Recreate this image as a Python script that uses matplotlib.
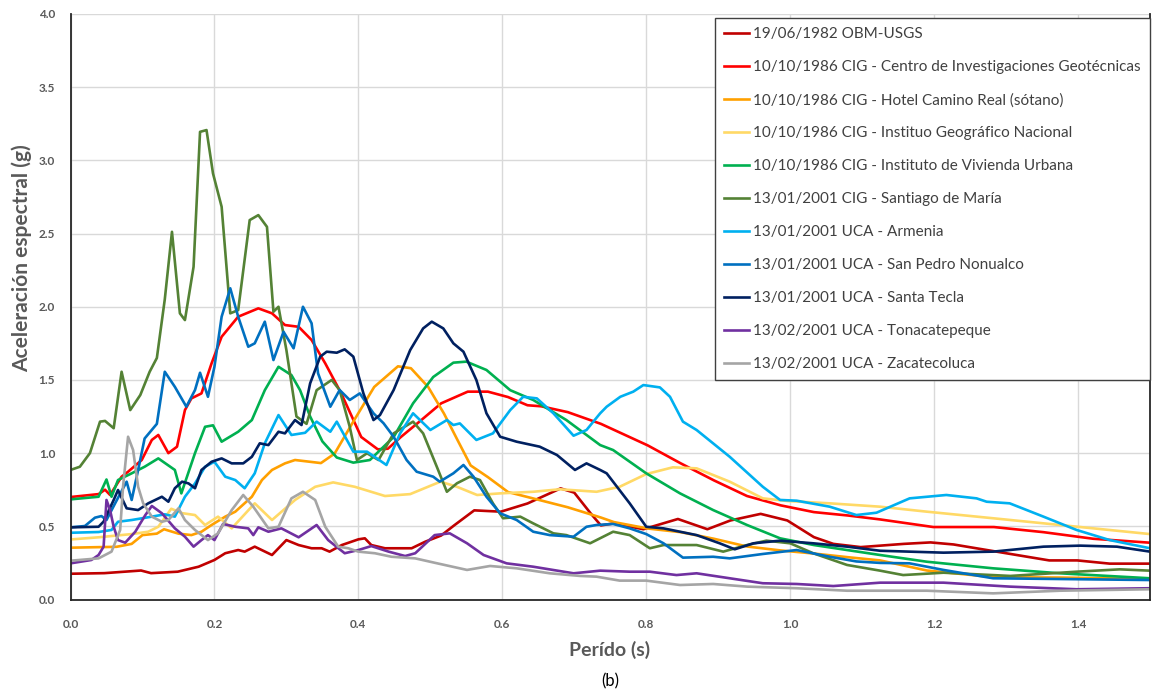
import matplotlib
matplotlib.use("Agg")
import matplotlib.pyplot as plt

plt.rcParams['font.family'] = ['Lato', 'DejaVu Sans']

# --- spectral acceleration curves: period (s) / Sa (g) ---
obm_t = [0.0, 0.047, 0.098, 0.112, 0.149, 0.178, 0.2, 0.215, 0.233, 0.242, 0.256, 0.28, 0.3, 0.317, 0.335,
         0.349, 0.36, 0.377, 0.4, 0.409, 0.418, 0.437, 0.474, 0.493, 0.515, 0.533, 0.561, 0.598, 0.635, 0.681,
         0.7, 0.723, 0.737, 0.755, 0.796, 0.844, 0.885, 0.917, 0.959, 0.996, 1.033, 1.06, 1.098, 1.158, 1.195,
         1.227, 1.283, 1.36, 1.399, 1.444, 1.5]
obm_sa = [0.176, 0.18, 0.198, 0.18, 0.19, 0.224, 0.27, 0.316, 0.338, 0.327, 0.361, 0.304, 0.406, 0.372, 0.35,
          0.35, 0.327, 0.372, 0.411, 0.418, 0.372, 0.35, 0.35, 0.395, 0.437, 0.506, 0.609, 0.6, 0.656, 0.759,
          0.73, 0.587, 0.506, 0.52, 0.48, 0.55, 0.48, 0.54, 0.585, 0.54, 0.426, 0.38, 0.358, 0.38, 0.39,
          0.376, 0.33, 0.267, 0.267, 0.245, 0.245]

cig_t = [0.0, 0.039, 0.048, 0.055, 0.071, 0.08, 0.099, 0.113, 0.122, 0.136, 0.148, 0.159, 0.168, 0.182, 0.196,
         0.21, 0.233, 0.261, 0.28, 0.298, 0.317, 0.335, 0.354, 0.376, 0.404, 0.427, 0.441, 0.459, 0.487, 0.515,
         0.552, 0.58, 0.608, 0.635, 0.654, 0.691, 0.737, 0.802, 0.848, 0.894, 0.94, 0.987, 1.033, 1.08, 1.125,
         1.199, 1.283, 1.352, 1.421, 1.5]
cig_sa = [0.70, 0.72, 0.75, 0.714, 0.839, 0.873, 0.953, 1.09, 1.124, 1.0, 1.044, 1.294, 1.374, 1.408, 1.613,
          1.795, 1.932, 1.989, 1.955, 1.875, 1.863, 1.773, 1.613, 1.41, 1.11, 1.026, 1.03, 1.11, 1.224, 1.34,
          1.42, 1.42, 1.383, 1.327, 1.32, 1.28, 1.20, 1.053, 0.93, 0.814, 0.707, 0.643, 0.597, 0.574, 0.547,
          0.495, 0.495, 0.46, 0.415, 0.388]

hotel_t = [0.0, 0.064, 0.085, 0.1, 0.12, 0.13, 0.15, 0.168, 0.182, 0.196, 0.215, 0.229, 0.252, 0.266, 0.28,
           0.298, 0.312, 0.348, 0.367, 0.394, 0.422, 0.455, 0.473, 0.497, 0.519, 0.538, 0.556, 0.58, 0.608, 0.644,
           0.691, 0.737, 0.755, 0.802, 0.848, 0.894, 0.94, 0.987, 1.033, 1.08, 1.125, 1.19, 1.283, 1.375, 1.5]
hotel_sa = [0.354, 0.36, 0.38, 0.44, 0.45, 0.48, 0.45, 0.44, 0.463, 0.509, 0.566, 0.6, 0.702, 0.816, 0.885,
            0.93, 0.953, 0.932, 0.997, 1.224, 1.452, 1.593, 1.58, 1.452, 1.27, 1.087, 0.916, 0.836, 0.734, 0.689,
            0.63, 0.56, 0.529, 0.485, 0.46, 0.415, 0.362, 0.335, 0.314, 0.289, 0.267, 0.198, 0.152, 0.15, 0.14]

ign_t = [0.0, 0.039, 0.085, 0.108, 0.122, 0.14, 0.155, 0.173, 0.187, 0.205, 0.224, 0.256, 0.28, 0.312, 0.34,
         0.365, 0.395, 0.437, 0.472, 0.514, 0.537, 0.565, 0.597, 0.643, 0.68, 0.731, 0.763, 0.8, 0.837, 0.87,
         0.916, 0.962, 0.996, 1.055, 1.125, 1.19, 1.282, 1.375, 1.5]
ign_sa = [0.41, 0.425, 0.447, 0.463, 0.497, 0.62, 0.59, 0.577, 0.509, 0.566, 0.486, 0.657, 0.543, 0.68, 0.77,
          0.8, 0.77, 0.707, 0.72, 0.805, 0.77, 0.714, 0.725, 0.736, 0.753, 0.736, 0.77, 0.857, 0.903, 0.896,
          0.805, 0.691, 0.673, 0.657, 0.634, 0.6, 0.555, 0.509, 0.447]

ivu_t = [0.0, 0.039, 0.05, 0.057, 0.066, 0.085, 0.103, 0.122, 0.145, 0.154, 0.173, 0.187, 0.198, 0.21, 0.233,
         0.252, 0.27, 0.289, 0.307, 0.319, 0.333, 0.35, 0.37, 0.393, 0.416, 0.449, 0.476, 0.504, 0.532, 0.55,
         0.578, 0.611, 0.643, 0.689, 0.736, 0.754, 0.8, 0.847, 0.893, 0.94, 0.986, 1.033, 1.079, 1.125, 1.19,
         1.282, 1.375, 1.5]
ivu_sa = [0.684, 0.702, 0.82, 0.702, 0.816, 0.862, 0.907, 0.964, 0.885, 0.725, 1.0, 1.18, 1.19, 1.078, 1.146,
          1.226, 1.43, 1.59, 1.533, 1.43, 1.25, 1.08, 0.97, 0.935, 0.953, 1.11, 1.34, 1.52, 1.618, 1.625,
          1.568, 1.43, 1.363, 1.226, 1.055, 1.021, 0.862, 0.725, 0.611, 0.509, 0.418, 0.372, 0.338, 0.304, 0.258,
          0.213, 0.179, 0.145]

smaria_t = [0.0, 0.013, 0.027, 0.041, 0.048, 0.06, 0.071, 0.083, 0.097, 0.11, 0.12, 0.131, 0.141, 0.152, 0.159,
            0.171, 0.18, 0.189, 0.198, 0.21, 0.222, 0.233, 0.249, 0.261, 0.273, 0.282, 0.289, 0.3, 0.314, 0.328,
            0.342, 0.363, 0.374, 0.388, 0.398, 0.412, 0.428, 0.449, 0.476, 0.49, 0.509, 0.523, 0.537, 0.555,
            0.569, 0.587, 0.601, 0.625, 0.643, 0.671, 0.689, 0.722, 0.754, 0.777, 0.805, 0.824, 0.87, 0.907,
            0.94, 0.967, 1.0, 1.032, 1.079, 1.125, 1.157, 1.213, 1.306, 1.398, 1.458, 1.5]
smaria_sa = [0.885, 0.907, 1.0, 1.215, 1.22, 1.17, 1.556, 1.294, 1.397, 1.556, 1.65, 2.05, 2.512, 1.955, 1.909,
             2.273, 3.195, 3.207, 2.911, 2.683, 1.955, 1.977, 2.592, 2.626, 2.546, 1.966, 2.0, 1.704, 1.25, 1.2,
             1.43, 1.5, 1.43, 1.18, 0.953, 0.999, 0.953, 1.135, 1.215, 1.135, 0.907, 0.736, 0.794, 0.839,
             0.816, 0.657, 0.555, 0.566, 0.52, 0.452, 0.44, 0.384, 0.463, 0.44, 0.35, 0.372, 0.372, 0.327,
             0.372, 0.402, 0.384, 0.316, 0.236, 0.197, 0.167, 0.183, 0.161, 0.19, 0.206, 0.197]

armenia_t = [0.0, 0.039, 0.057, 0.066, 0.085, 0.113, 0.131, 0.145, 0.159, 0.173, 0.187, 0.2, 0.215, 0.229, 0.242,
             0.256, 0.27, 0.289, 0.307, 0.326, 0.342, 0.361, 0.37, 0.393, 0.412, 0.439, 0.458, 0.476, 0.5, 0.523,
             0.532, 0.541, 0.564, 0.587, 0.611, 0.629, 0.648, 0.671, 0.699, 0.717, 0.736, 0.745, 0.764, 0.782,
             0.796, 0.819, 0.833, 0.851, 0.87, 0.916, 0.962, 0.986, 1.009, 1.055, 1.092, 1.12, 1.166, 1.217,
             1.259, 1.273, 1.305, 1.352, 1.398, 1.444, 1.5]
armenia_sa = [0.456, 0.461, 0.475, 0.531, 0.543, 0.566, 0.582, 0.566, 0.702, 0.793, 0.907, 0.941, 0.839, 0.816,
              0.76, 0.862, 1.067, 1.26, 1.124, 1.139, 1.215, 1.146, 1.215, 1.01, 1.01, 0.919, 1.135, 1.272, 1.158,
              1.226, 1.192, 1.203, 1.09, 1.135, 1.294, 1.385, 1.374, 1.272, 1.119, 1.158, 1.272, 1.317, 1.385,
              1.42, 1.465, 1.449, 1.385, 1.215, 1.158, 0.975, 0.77, 0.68, 0.675, 0.634, 0.577, 0.593, 0.691,
              0.714, 0.691, 0.668, 0.657, 0.566, 0.475, 0.406, 0.35]

spedro_t = [0.0, 0.02, 0.034, 0.043, 0.05, 0.062, 0.078, 0.085, 0.094, 0.103, 0.12, 0.131, 0.145, 0.161, 0.173,
            0.18, 0.191, 0.2, 0.21, 0.222, 0.233, 0.247, 0.256, 0.27, 0.282, 0.296, 0.31, 0.323, 0.335, 0.344,
            0.361, 0.374, 0.388, 0.402, 0.421, 0.435, 0.449, 0.467, 0.481, 0.504, 0.513, 0.532, 0.546, 0.56,
            0.578, 0.597, 0.62, 0.643, 0.666, 0.699, 0.717, 0.731, 0.754, 0.777, 0.8, 0.824, 0.851, 0.893, 0.916,
            0.962, 1.009, 1.055, 1.092, 1.125, 1.166, 1.213, 1.282, 1.5]
spedro_sa = [0.493, 0.502, 0.559, 0.57, 0.543, 0.657, 0.805, 0.68, 0.885, 1.1, 1.2, 1.556, 1.453, 1.317, 1.431,
             1.549, 1.385, 1.59, 1.932, 2.126, 1.932, 1.727, 1.75, 1.898, 1.636, 1.829, 1.716, 2.0, 1.887, 1.545,
             1.317, 1.431, 1.363, 1.408, 1.272, 1.204, 1.112, 0.953, 0.873, 0.839, 0.805, 0.862, 0.919, 0.839,
             0.702, 0.589, 0.543, 0.463, 0.44, 0.429, 0.497, 0.509, 0.516, 0.486, 0.447, 0.384, 0.286, 0.292,
             0.281, 0.311, 0.338, 0.292, 0.26, 0.25, 0.247, 0.202, 0.145, 0.133]

stecla_t = [0.0, 0.039, 0.046, 0.06, 0.066, 0.078, 0.094, 0.108, 0.127, 0.136, 0.145, 0.155, 0.164, 0.173, 0.182,
            0.196, 0.21, 0.224, 0.24, 0.252, 0.263, 0.275, 0.289, 0.298, 0.312, 0.321, 0.333, 0.347, 0.356, 0.37,
            0.381, 0.393, 0.407, 0.421, 0.43, 0.449, 0.472, 0.49, 0.502, 0.518, 0.532, 0.546, 0.564, 0.578,
            0.597, 0.62, 0.652, 0.676, 0.701, 0.717, 0.736, 0.745, 0.777, 0.8, 0.824, 0.87, 0.902, 0.923, 0.949,
            0.986, 1.032, 1.079, 1.125, 1.213, 1.282, 1.352, 1.403, 1.454, 1.5]
stecla_sa = [0.493, 0.497, 0.532, 0.68, 0.748, 0.623, 0.611, 0.657, 0.702, 0.668, 0.76, 0.805, 0.793, 0.76, 0.885,
             0.941, 0.964, 0.93, 0.93, 0.975, 1.067, 1.055, 1.146, 1.135, 1.226, 1.192, 1.477, 1.659, 1.693,
             1.686, 1.709, 1.659, 1.408, 1.226, 1.26, 1.431, 1.704, 1.852, 1.898, 1.852, 1.75, 1.693, 1.499,
             1.272, 1.112, 1.078, 1.044, 0.987, 0.885, 0.93, 0.885, 0.862, 0.657, 0.497, 0.486, 0.44, 0.384,
             0.343, 0.384, 0.402, 0.384, 0.361, 0.333, 0.32, 0.327, 0.361, 0.368, 0.361, 0.327]

tonaca_t = [0.0, 0.029, 0.039, 0.046, 0.05, 0.055, 0.06, 0.066, 0.076, 0.09, 0.104, 0.113, 0.127, 0.145, 0.159,
            0.171, 0.182, 0.191, 0.2, 0.212, 0.229, 0.247, 0.254, 0.261, 0.275, 0.293, 0.317, 0.342, 0.358, 0.381,
            0.4, 0.418, 0.442, 0.465, 0.479, 0.506, 0.527, 0.551, 0.574, 0.606, 0.643, 0.699, 0.736, 0.777, 0.805,
            0.842, 0.87, 0.916, 0.962, 1.009, 1.06, 1.125, 1.213, 1.305, 1.398, 1.5]
tonaca_sa = [0.247, 0.27, 0.304, 0.361, 0.68, 0.611, 0.497, 0.406, 0.388, 0.463, 0.577, 0.639, 0.589, 0.486,
             0.429, 0.361, 0.406, 0.44, 0.406, 0.516, 0.497, 0.486, 0.44, 0.493, 0.463, 0.486, 0.425, 0.509,
             0.406, 0.316, 0.338, 0.365, 0.327, 0.297, 0.316, 0.44, 0.452, 0.384, 0.304, 0.247, 0.224, 0.179,
             0.197, 0.19, 0.19, 0.167, 0.179, 0.145, 0.111, 0.106, 0.092, 0.115, 0.115, 0.088, 0.07, 0.077]

zacate_t = [0.0, 0.039, 0.057, 0.069, 0.073, 0.08, 0.087, 0.094, 0.101, 0.113, 0.127, 0.136, 0.15, 0.159, 0.173,
            0.191, 0.205, 0.224, 0.24, 0.254, 0.275, 0.289, 0.307, 0.323, 0.34, 0.354, 0.372, 0.386, 0.4, 0.423,
            0.446, 0.479, 0.506, 0.551, 0.583, 0.62, 0.666, 0.708, 0.731, 0.763, 0.8, 0.847, 0.893, 0.94, 1.009,
            1.079, 1.125, 1.19, 1.282, 1.375, 1.5]
zacate_sa = [0.265, 0.281, 0.327, 0.475, 0.77, 1.112, 1.021, 0.77, 0.657, 0.566, 0.531, 0.543, 0.623, 0.543,
             0.475, 0.406, 0.452, 0.611, 0.714, 0.634, 0.486, 0.497, 0.691, 0.736, 0.68, 0.497, 0.361, 0.35,
             0.327, 0.316, 0.292, 0.281, 0.251, 0.202, 0.229, 0.213, 0.179, 0.161, 0.156, 0.129, 0.129, 0.099,
             0.106, 0.088, 0.077, 0.06, 0.06, 0.06, 0.042, 0.06, 0.07]

labels = [
    '19/06/1982 OBM-USGS',
    '10/10/1986 CIG - Centro de Investigaciones Geotécnicas',
    '10/10/1986 CIG - Hotel Camino Real (sótano)',
    '10/10/1986 CIG - Instituo Geográfico Nacional',
    '10/10/1986 CIG - Instituto de Vivienda Urbana',
    '13/01/2001 CIG - Santiago de María',
    '13/01/2001 UCA - Armenia',
    '13/01/2001 UCA - San Pedro Nonualco',
    '13/01/2001 UCA - Santa Tecla',
    '13/02/2001 UCA - Tonacatepeque',
    '13/02/2001 UCA - Zacatecoluca',
]
colors = ['#C00000', '#FF0000', '#FFA000', '#FFD966', '#00B050', '#548235',
          '#00B0F0', '#0070C0', '#002060', '#7030A0', '#A5A5A5']
series = [(obm_t, obm_sa), (cig_t, cig_sa), (hotel_t, hotel_sa), (ign_t, ign_sa),
          (ivu_t, ivu_sa), (smaria_t, smaria_sa), (armenia_t, armenia_sa),
          (spedro_t, spedro_sa), (stecla_t, stecla_sa), (tonaca_t, tonaca_sa),
          (zacate_t, zacate_sa)]

fig = plt.figure(figsize=(11.52, 6.97), dpi=100)
W, H = 1152, 697
ax = fig.add_axes([70.5 / W, 1 - 599.5 / H, (1150 - 70.5) / W, (599.5 - 14) / H])

for (t, sa), lab, col in zip(series, labels, colors):
    ax.plot(t, sa, color=col, lw=1.9, label=lab, solid_joinstyle='round')

ax.set_xlim(0, 1.5)
ax.set_ylim(0, 4.0)
ax.set_xticks([0.0, 0.2, 0.4, 0.6, 0.8, 1.0, 1.2, 1.4])
ax.set_yticks([0.0, 0.5, 1.0, 1.5, 2.0, 2.5, 3.0, 3.5, 4.0])
ax.xaxis.set_major_formatter(matplotlib.ticker.FormatStrFormatter('%.1f'))
ax.yaxis.set_major_formatter(matplotlib.ticker.FormatStrFormatter('%.1f'))
ax.tick_params(axis='both', length=0, labelsize=8.5, labelcolor='#595959')
ax.tick_params(axis='x', pad=14)
ax.tick_params(axis='y', pad=11)
for lbl in ax.get_xticklabels() + ax.get_yticklabels():
    lbl.set_fontweight('bold')

ax.grid(True, color='#D9D9D9', lw=1.0)
ax.set_axisbelow(True)
ax.spines['top'].set_visible(False)
for side in ['left', 'bottom', 'right']:
    ax.spines[side].set_color('#262626')
    ax.spines[side].set_linewidth(1.3)

fig.text(22 / W, 1 - 258 / H, 'Aceleración espectral (g)', rotation=90, ha='center', va='center',
         fontsize=15, fontweight='bold', color='#595959')
fig.text(610 / W, 1 - 650 / H, 'Perído (s)', ha='center', va='center',
         fontsize=14, fontweight='bold', color='#595959')
fig.text(610 / W, 1 - 681 / H, '(b)', ha='center', va='center', fontsize=12, color='black')

leg = ax.legend(loc='upper right', bbox_to_anchor=(1.0, (599.5 - 18) / (599.5 - 14)),
                fontsize=11, frameon=True, fancybox=False, framealpha=1.0,
                edgecolor='#404040', labelspacing=1.24, handlelength=1.6,
                handletextpad=0.3, borderpad=0.6, borderaxespad=0.0)
leg.get_frame().set_linewidth(1.0)
for txt in leg.get_texts():
    txt.set_color('#404040')

fig.savefig('out.png', dpi=100)
